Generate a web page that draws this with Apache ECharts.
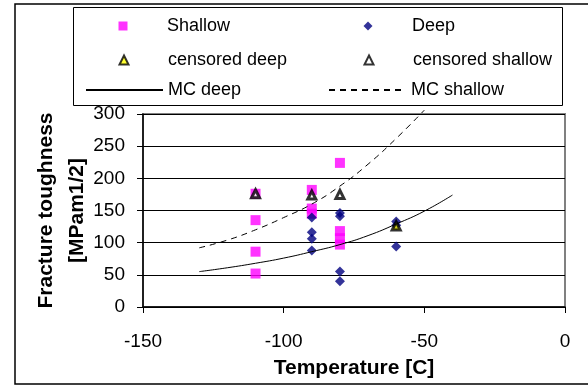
<!DOCTYPE html>
<html>
<head>
<meta charset="utf-8">
<script src="https://cdn.jsdelivr.net/npm/echarts@6/dist/echarts.min.js"></script>
<style>
html,body{margin:0;padding:0;background:#fff;}
#chart{width:588px;height:390px;}
</style>
</head>
<body>
<div id="chart"></div>
<script>
// Data
var shallowT = [-110, -110, -110, -110, -90, -90, -90, -80, -80, -80, -80];
var shallowK = [176, 135, 86, 52, 182, 153, 145, 224, 118, 107, 97];

var deepT = [-90, -90, -90, -90, -80, -80, -80, -80, -60, -60, -60];
var deepK = [139, 116, 106, 88, 146, 141, 55, 40, 133, 127, 94];

var censDeepT = [-60];
var censDeepK = [126];

var censShallowT = [-110, -90, -80];
var censShallowK = [176, 174, 175];

var mcDeepT = [-130, -120, -110, -100, -90, -80, -70, -60, -50, -40];
var mcDeepK = [55, 61, 68, 76, 86, 97, 111, 129, 149, 174];

var mcShallowT = [-130, -120, -110, -100, -90, -80, -70, -60, -50];
var mcShallowK = [92, 104, 120, 139, 160, 188, 222, 262, 306];

var xTicks = [-150, -100, -50, 0];
var yTicks = [0, 50, 100, 150, 200, 250, 300];

function pairs(xs, ys) { return xs.map(function (x, i) { return [x, ys[i]]; }); }

var FONT = '"Liberation Sans", Arial, sans-serif';

var chart = echarts.init(document.getElementById('chart'), null, {renderer: 'canvas'});

// legend entry with a marker symbol: small icon, text pushed right
function legMark(name, iconCenterX, top, size) {
  return {
    data: [name], left: iconCenterX - size / 2, top: top, orient: 'horizontal',
    itemWidth: size, itemHeight: size, itemGap: 0, padding: 0,
    selectedMode: false,
    textStyle: {fontFamily: FONT, fontSize: 18, color: '#000', padding: [0, 0, 0, 39 - size / 2]}
  };
}
// legend entry with a line sample
function legLine(name, left, top) {
  return {
    data: [name], left: left, top: top, orient: 'horizontal',
    itemWidth: 77, itemHeight: 1, itemGap: 0, padding: 0,
    selectedMode: false,
    itemStyle: {opacity: 0},
    textStyle: {fontFamily: FONT, fontSize: 18, color: '#000', padding: [0, 0, 0, 0]}
  };
}

var option = {
  backgroundColor: '#fff',
  animation: false,
  graphic: [
    {type: 'rect', z: -10, shape: {x: 15, y: 4, width: 600, height: 380}, style: {fill: '#fff', stroke: '#000', lineWidth: 1.5}},
    {type: 'rect', z: -5, shape: {x: 73.5, y: 7.5, width: 489, height: 98}, style: {fill: '#fff', stroke: '#000', lineWidth: 1}}
  ],
  legend: [
    legMark('Shallow', 123, 17, 9),
    legMark('Deep', 368, 17, 9),
    legMark('censored deep', 123, 51, 9),
    legMark('censored shallow', 368, 51, 9),
    legLine('MC deep', 85, 81),
    legLine('MC shallow', 328, 81)
  ],
  grid: {left: 143, right: 23, top: 114, bottom: 83, show: true, borderColor: '#808080', borderWidth: 2, backgroundColor: '#fff'},
  xAxis: {
    type: 'value', min: -150, max: 0, interval: 50,
    name: 'Temperature [C]', nameLocation: 'middle', nameGap: 51, nameMoveOverlap: false,
    nameTextStyle: {fontFamily: FONT, fontSize: 21, fontWeight: 'bold', color: '#000'},
    axisLine: {show: true, onZero: false, lineStyle: {color: '#000', width: 1.5}},
    axisTick: {show: true, inside: false, length: 6, lineStyle: {color: '#000'}},
    axisLabel: {fontFamily: FONT, fontSize: 19, color: '#000', margin: 25,
      formatter: function (v) { return xTicks.indexOf(v) >= 0 ? String(v) : ''; }},
    splitLine: {show: false}
  },
  yAxis: {
    type: 'value', min: 0, max: 300, interval: 50,
    name: 'Fracture toughness\n[MPam1/2]', nameLocation: 'middle', nameGap: 50, nameRotate: 90, nameMoveOverlap: false,
    nameTextStyle: {fontFamily: FONT, fontSize: 21, fontWeight: 'bold', color: '#000', lineHeight: 31, align: 'center'},
    axisLine: {show: true, onZero: false, lineStyle: {color: '#000', width: 1.5}},
    axisTick: {show: true, inside: false, length: 6, lineStyle: {color: '#000'}},
    axisLabel: {fontFamily: FONT, fontSize: 19, color: '#000', margin: 18,
      formatter: function (v) { return yTicks.indexOf(v) >= 0 ? String(v) : ''; }},
    splitLine: {show: true, lineStyle: {color: '#000', width: 1}}
  },
  series: [
    {name: 'Shallow', type: 'scatter', symbol: 'rect', symbolSize: 10,
      itemStyle: {color: '#FF00FF'}, data: pairs(shallowT, shallowK)},
    {name: 'Deep', type: 'scatter', symbol: 'diamond', symbolSize: 10,
      itemStyle: {color: '#000080'}, data: pairs(deepT, deepK)},
    {name: 'censored deep', type: 'scatter', symbol: 'triangle', symbolSize: 8,
      itemStyle: {color: '#FFFF00', borderColor: '#000', borderWidth: 3}, data: pairs(censDeepT, censDeepK)},
    {name: 'censored shallow', type: 'scatter', symbol: 'triangle', symbolSize: 8,
      itemStyle: {color: '#FFFFFF', borderColor: '#000', borderWidth: 3}, data: pairs(censShallowT, censShallowK)},
    {name: 'MC deep', type: 'line', symbol: 'none', showSymbol: false, smooth: true, clip: false,
      itemStyle: {color: '#000'}, lineStyle: {color: '#000', width: 1, type: 'solid'}, data: pairs(mcDeepT, mcDeepK)},
    {name: 'MC shallow', type: 'line', symbol: 'none', showSymbol: false, smooth: true, clip: false,
      itemStyle: {color: '#000'}, lineStyle: {color: '#000', width: 1, type: [6, 5]}, data: pairs(mcShallowT, mcShallowK)}
  ]
};
chart.setOption(option);
</script>
</body>
</html>
